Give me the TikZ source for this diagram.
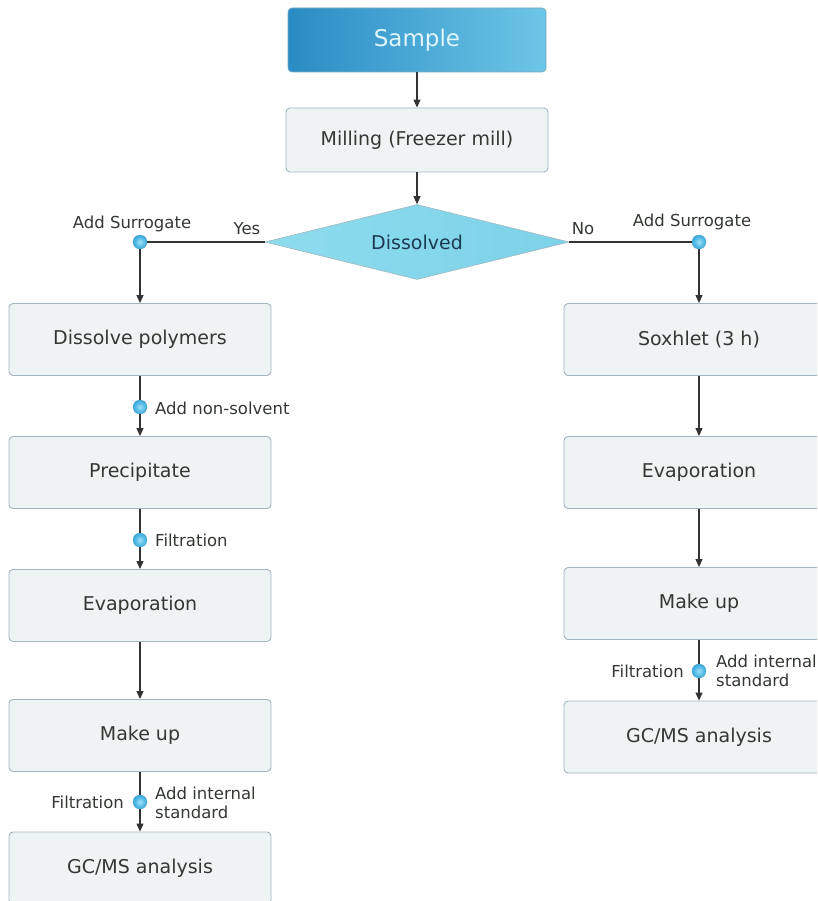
\documentclass[tikz,border=0pt]{standalone}
\usepackage{fontspec}
\setmainfont{DejaVu Sans}
\usetikzlibrary{shapes.geometric,arrows.meta,shadings}
\definecolor{boxfill}{HTML}{EEF3F4}
\definecolor{boxline}{HTML}{A3B6BF}
\definecolor{txt}{HTML}{333833}
\definecolor{sampleL}{HTML}{2A8CC4}
\definecolor{sampleR}{HTML}{6CC6E6}
\definecolor{diaL}{HTML}{8EDCEE}
\definecolor{diaR}{HTML}{7CD2E8}
\definecolor{diatext}{HTML}{1B3A52}
\definecolor{dotlight}{HTML}{9BE0F7}
\definecolor{dotblue}{HTML}{33A8DE}
\definecolor{linecol}{HTML}{333333}
\tikzset{
  procbox/.style={draw=boxline, line width=0.9pt, fill=boxfill, rounded corners=4pt,
    minimum width=262pt, minimum height=72pt, inner sep=0pt, text=txt,
    font=\fontsize{19}{22}\selectfont},
  rbox/.style={procbox, minimum width=270pt},
  conn/.style={draw=linecol, line width=1.1pt},
  arr/.style={conn, -{Triangle[length=8pt,width=7pt]}},
  dotnode/.style={circle, inner sep=0pt, minimum size=14pt, shading=radial,
    inner color=dotlight, outer color=dotblue, draw=dotblue!80!black!80, line width=0.3pt},
  lab/.style={text=txt, font=\fontsize{16.5}{19}\selectfont, inner sep=0pt}
}
\begin{document}
\begin{tikzpicture}[x=1pt,y=-1pt]
\useasboundingbox (0,0) rectangle (817,901);
\clip (0,0) rectangle (817,901);
% top
\node[draw=sampleL!80!black!60, line width=0.8pt, rounded corners=4pt, left color=sampleL, right color=sampleR,
  minimum width=258pt, minimum height=64pt, inner sep=0pt, text=white!88!cyan,
  font=\fontsize{23}{27}\selectfont] (sample) at (417,40) {Sample};
\node[procbox, minimum width=262pt, minimum height=64pt] (mill) at (417,140) {Milling (Freezer mill)};
\node[diamond, aspect=4, draw=boxline, line width=0.6pt, left color=diaL, right color=diaR, minimum width=304pt, minimum height=75pt,
  inner sep=0pt, text=diatext, font=\fontsize{19}{22}\selectfont] (dia) at (417,242) {Dissolved};
% left column
\node[procbox] (dis) at (140,339.5) {Dissolve polymers};
\node[procbox] (pre) at (140,472.5) {Precipitate};
\node[procbox] (evL) at (140,605.5) {Evaporation};
\node[procbox] (muL) at (140,735.5) {Make up};
\node[procbox] (gcL) at (140,868) {GC/MS analysis};
% right column
\node[rbox] (sox) at (699,339.5) {Soxhlet (3 h)};
\node[rbox] (evR) at (699,472.5) {Evaporation};
\node[rbox] (muR) at (699,603.5) {Make up};
\node[rbox] (gcR) at (699,737) {GC/MS analysis};
% dots
\node[dotnode] (dL) at (140,242) {};
\node[dotnode] (dR) at (699,242) {};
\node[dotnode] (d2) at (140,407) {};
\node[dotnode] (d3) at (140,540) {};
\node[dotnode] (d4) at (140,802) {};
\node[dotnode] (d5) at (699,671) {};
% connectors
\draw[arr] (sample) -- (mill);
\draw[arr] (mill) -- (dia.north);
\draw[conn] (dia.west) -- (dL);
\draw[arr] (dL) -- (dis);
\draw[conn] (dia.east) -- (dR);
\draw[arr] (dR) -- (sox);
\draw[conn] (dis) -- (d2);
\draw[arr] (d2) -- (pre);
\draw[conn] (pre) -- (d3);
\draw[arr] (d3) -- (evL);
\draw[arr] (evL) -- (muL);
\draw[conn] (muL) -- (d4);
\draw[arr] (d4) -- (gcL);
\draw[arr] (sox) -- (evR);
\draw[arr] (evR) -- (muR);
\draw[conn] (muR) -- (d5);
\draw[arr] (d5) -- (gcR);
% labels
\node[lab] (lsL) at (132,224) {Add Surrogate};
\node[lab] (lsR) at (692,222) {Add Surrogate};
\node[lab] (yes) at (247,229) {Yes};
\node[lab] (no) at (583,229) {No};
\node[lab, anchor=west] (lns) at (155,408) {Add non-solvent};
\node[lab, anchor=west] (lf1) at (155,540) {Filtration};
\node[lab, anchor=east] (lf2) at (124,802) {Filtration};
\node[lab, anchor=west, align=left] (lis1) at (155,803) {Add internal\\standard};
\node[lab, anchor=east] (lf3) at (684,671) {Filtration};
\node[lab, anchor=west, align=left] (lis2) at (716,671) {Add internal\\standard};
\end{tikzpicture}
\end{document}
